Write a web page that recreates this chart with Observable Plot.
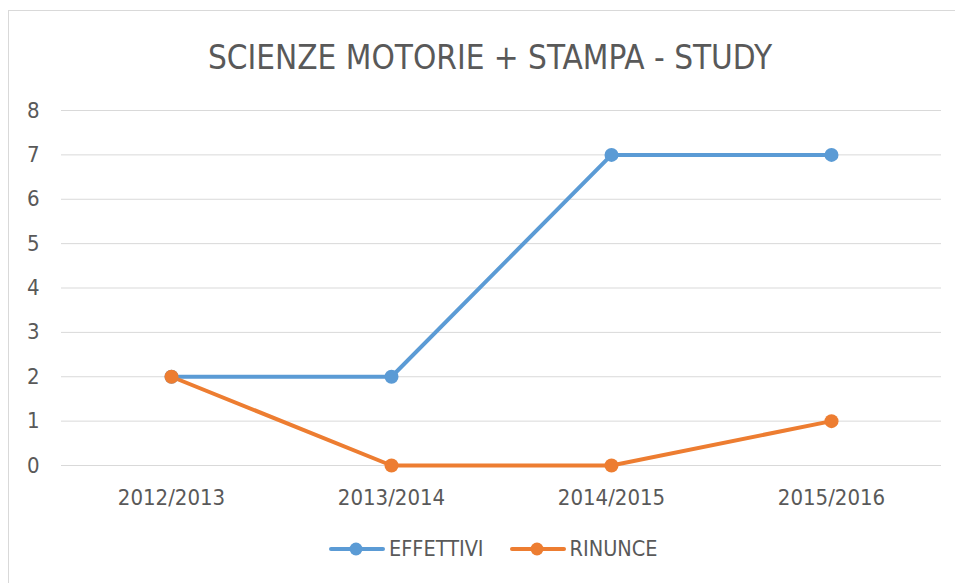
<!DOCTYPE html>
<html><head><meta charset="utf-8">
<script src="https://cdn.jsdelivr.net/npm/d3@7"></script>
<script src="https://cdn.jsdelivr.net/npm/@observablehq/plot@0.6"></script>
<style>
html,body{margin:0;padding:0;background:#fff;overflow:hidden}
#wrap{position:relative;width:955px;height:583px;font-family:"DejaVu Sans Condensed","Liberation Sans Narrow","Open Sans",sans-serif;color:#595959}
#frame{position:absolute;left:8px;top:10px;width:1000px;height:600px;border:1px solid #d9d9d9;box-sizing:border-box}
#title{position:absolute;left:0;width:980px;top:38px;text-align:center;font-size:33px;line-height:40px;color:#595959;white-space:nowrap}
#legend{position:absolute;left:329px;top:537px;display:flex;align-items:center;font-size:21.5px;line-height:24px;color:#595959;white-space:nowrap}
#legend span.item{display:inline-flex;align-items:center;margin-right:26px}
#legend svg{margin-right:4px}
#chart{position:absolute;left:0;top:0}
</style></head>
<body><div id="wrap"><div id="frame"></div><div id="title"></div><div id="chart"></div><div id="legend"></div></div>
<script>
const title = "SCIENZE MOTORIE + STAMPA - STUDY";
const years = ["2012/2013","2013/2014","2014/2015","2015/2016"];
const effettivi = [2,2,7,7];
const rinunce = [2,0,0,1];
const seriesNames = ["EFFETTIVI","RINUNCE"];
const colors = ["#5b9bd5","#ed7d31"];
const yTicks = [0,1,2,3,4,5,6,7,8];

const data = [];
years.forEach((y,i)=>data.push({year:y, value:effettivi[i], series:seriesNames[0]}));
years.forEach((y,i)=>data.push({year:y, value:rinunce[i], series:seriesNames[1]}));

document.getElementById("title").textContent = title;

const font = '"DejaVu Sans Condensed","Liberation Sans Narrow","Open Sans",sans-serif';
const plot = Plot.plot({
  width:955, height:583,
  marginLeft:61, marginRight:14, marginTop:110, marginBottom:118,
  style:{fontFamily:font, fontSize:"22px", color:"#595959", background:"transparent"},
  x:{type:"point", domain:years, padding:0.5, label:null},
  y:{domain:[0,8], label:null},
  color:{domain:seriesNames, range:colors},
  marks:[
    Plot.ruleY(yTicks,{stroke:"#d9d9d9", strokeWidth:1, strokeOpacity:1}),
    Plot.axisY({ticks:yTicks, tickSize:0, tickPadding:22, label:null, fontSize:22, fill:"#595959"}),
    Plot.axisX({tickSize:0, tickPadding:24, label:null, fontSize:22, fill:"#595959"}),
    Plot.line(data,{x:"year", y:"value", stroke:"series", strokeWidth:4, strokeLinejoin:"round", strokeLinecap:"round"}),
    Plot.dot(data,{x:"year", y:"value", fill:"series", r:7, stroke:null})
  ]
});
document.getElementById("chart").appendChild(plot);

const leg = document.getElementById("legend");
seriesNames.forEach((n,i)=>{
  const s = document.createElement("span"); s.className="item";
  s.innerHTML = `<svg width="56" height="16"><line x1="2" y1="8" x2="54" y2="8" stroke="${colors[i]}" stroke-width="4" stroke-linecap="round"/><circle cx="27" cy="8" r="6.5" fill="${colors[i]}"/></svg>`;
  const t = document.createElement("span"); t.textContent = n; s.appendChild(t);
  leg.appendChild(s);
});
</script></body></html>
